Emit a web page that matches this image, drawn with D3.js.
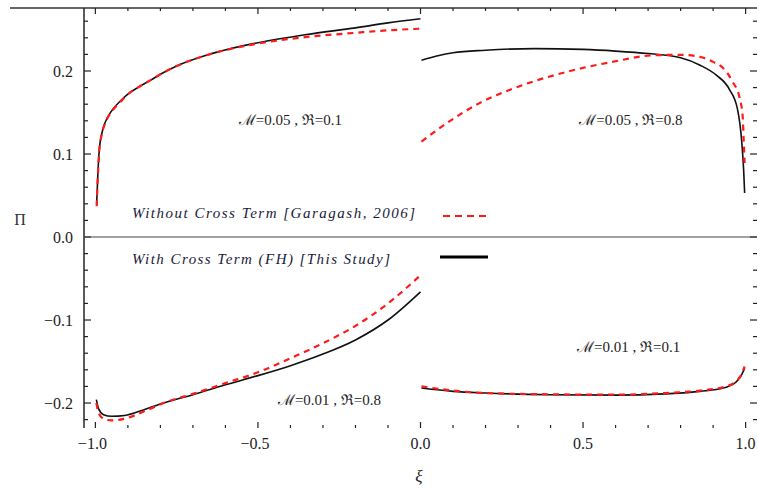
<!DOCTYPE html>
<html><head><meta charset="utf-8">
<script src="https://cdn.jsdelivr.net/npm/d3@7"></script>
<style>html,body{margin:0;padding:0;background:#fff;}svg{display:block;}</style>
</head><body>
<svg id="c" width="757" height="489"></svg>
<script>
// ---- data ----
const xTicksMajor = [-1.0, -0.5, 0.0, 0.5, 1.0];
const xTickLabels = ["\u22121.0", "\u22120.5", "0.0", "0.5", "1.0"];
const yTicksMajor = [-0.2, -0.1, 0.0, 0.1, 0.2];
const yTickLabels = ["\u22120.2", "\u22120.1", "0.0", "0.1", "0.2"];

// M=0.05, R=0.1 (xi in [-1,0])
const tlXi   = [-0.996,-0.993,-0.988,-0.98,-0.97,-0.95,-0.92,-0.9,-0.87,-0.83,-0.8,-0.75,-0.65,-0.5,-0.35,-0.2,-0.1,0.0];
const tlWith = [0.04,0.07,0.105,0.125,0.138,0.152,0.165,0.172,0.18,0.189,0.196,0.206,0.22,0.234,0.244,0.252,0.258,0.263];
const tlWithout = [0.037,0.068,0.104,0.124,0.137,0.151,0.164,0.172,0.18,0.189,0.196,0.206,0.22,0.233,0.241,0.246,0.249,0.251];

// M=0.05, R=0.8 (xi in [0,1])
const trXiWith = [0.003,0.05,0.1,0.2,0.35,0.5,0.6,0.7,0.8,0.86,0.91,0.95,0.975,0.988,0.994,0.997];
const trWith   = [0.213,0.218,0.222,0.225,0.227,0.226,0.224,0.221,0.216,0.207,0.195,0.178,0.154,0.115,0.08,0.053];
const trXiWithout = [0.003,0.08,0.18,0.3,0.45,0.59,0.72,0.8,0.86,0.9,0.93,0.96,0.982,0.991,0.994,0.997];
const trWithout   = [0.115,0.137,0.161,0.181,0.199,0.211,0.219,0.2195,0.217,0.211,0.204,0.187,0.167,0.145,0.117,0.089];

// M=0.01, R=0.8 (xi in [-1,0])
const blXi   = [-0.997,-0.99,-0.975,-0.95,-0.91,-0.85,-0.79,-0.7,-0.6,-0.5,-0.4,-0.3,-0.2,-0.1,0.0];
const blWith = [-0.196,-0.207,-0.214,-0.216,-0.215,-0.208,-0.2,-0.19,-0.178,-0.167,-0.155,-0.141,-0.124,-0.1,-0.066];
const blWithout = [-0.2,-0.212,-0.219,-0.221,-0.219,-0.21,-0.2,-0.189,-0.176,-0.163,-0.146,-0.128,-0.107,-0.08,-0.046];

// M=0.01, R=0.1 (xi in [0,1])
const brXi   = [0.003,0.1,0.2,0.4,0.6,0.75,0.86,0.94,0.97,0.985,0.997];
const brWith = [-0.182,-0.186,-0.188,-0.19,-0.1905,-0.189,-0.186,-0.181,-0.175,-0.168,-0.158];
const brWithout = [-0.18,-0.185,-0.188,-0.1895,-0.19,-0.188,-0.185,-0.18,-0.174,-0.167,-0.156];

const legendLabels = ["Without Cross Term [Garagash, 2006]", "With Cross Term (FH) [This Study]"];
const annotations = [
  {t:"\u2133=0.05 , \u211C=0.1", xi:-0.4, h:0.135},
  {t:"\u2133=0.05 , \u211C=0.8", xi:0.647, h:0.135},
  {t:"\u2133=0.01 , \u211C=0.1", xi:0.64, h:-0.139},
  {t:"\u2133=0.01 , \u211C=0.8", xi:-0.28, h:-0.202}
];

// ---- drawing ----
const svg = d3.select("#c");
const L = 84, R = 757, T = 8, B = 428;
const x = d3.scaleLinear().domain([-1.035, 1.035]).range([L, R]);
const y = d3.scaleLinear().domain([-0.2301, 0.2759]).range([B, T]);
const serif = "'Liberation Serif','Times New Roman',serif";

// frame lines (top and left visible)
svg.append("line").attr("x1", 10).attr("x2", R).attr("y1", T).attr("y2", T)
  .attr("stroke", "#333").attr("stroke-width", 1.6);
svg.append("line").attr("x1", L).attr("x2", L).attr("y1", T).attr("y2", B)
  .attr("stroke", "#333").attr("stroke-width", 1.6);

// ticks
const xMinor = d3.range(-10, 11).map(i => i / 10);
const yMinor = d3.range(-11, 14).map(i => +(i * 0.02).toFixed(2));
const isMajorX = v => Math.abs(v * 2 - Math.round(v * 2)) < 1e-6;
const isMajorY = v => Math.abs(v * 10 - Math.round(v * 10)) < 1e-6;
const tk = svg.append("g").attr("stroke", "#222").attr("stroke-width", 1.2);
xMinor.forEach(v => {
  const len = isMajorX(v) ? 6 : 3;
  tk.append("line").attr("x1", x(v)).attr("x2", x(v)).attr("y1", B).attr("y2", B - len);
  tk.append("line").attr("x1", x(v)).attr("x2", x(v)).attr("y1", T).attr("y2", T + len);
});
yMinor.forEach(v => {
  const len = isMajorY(v) ? 7 : 4;
  tk.append("line").attr("x1", L).attr("x2", L + len).attr("y1", y(v)).attr("y2", y(v));
  tk.append("line").attr("x1", R).attr("x2", R - len).attr("y1", y(v)).attr("y2", y(v));
});

// tick labels
xTicksMajor.forEach((v, i) => {
  svg.append("text").attr("x", x(v) - (v < 0 ? 3 : 0)).attr("y", 449).attr("text-anchor", "middle")
    .attr("font-family", serif).attr("font-size", 16).attr("fill", "#222").text(xTickLabels[i]);
});
yTicksMajor.forEach((v, i) => {
  svg.append("text").attr("x", 73).attr("y", y(v) + 5.5).attr("text-anchor", "end")
    .attr("font-family", serif).attr("font-size", 16).attr("fill", "#222").text(yTickLabels[i]);
});

// axis labels
svg.append("text").attr("x", 20).attr("y", 225).attr("text-anchor", "middle")
  .attr("font-family", serif).attr("font-size", 16).attr("fill", "#333").text("\u03A0");
svg.append("text").attr("x", 419).attr("y", 482).attr("text-anchor", "middle")
  .attr("font-family", serif).attr("font-size", 17).attr("font-style", "italic").attr("fill", "#222").text("\u03BE");

// zero line
svg.append("line").attr("x1", L).attr("x2", R).attr("y1", y(0)).attr("y2", y(0))
  .attr("stroke", "#444").attr("stroke-width", 1.2);

// curves
const line = d3.line().x(d => x(d[0])).y(d => y(d[1])).curve(d3.curveMonotoneX);
const zip = (a, b) => a.map((v, i) => [v, b[i]]);
const black = [zip(tlXi, tlWith), zip(trXiWith, trWith), zip(blXi, blWith), zip(brXi, brWith)];
const red = [zip(tlXi, tlWithout), zip(trXiWithout, trWithout), zip(blXi, blWithout), zip(brXi, brWithout)];
black.forEach(s => svg.append("path").attr("d", line(s)).attr("fill", "none")
  .attr("stroke", "#111").attr("stroke-width", 1.6));
red.forEach(s => svg.append("path").attr("d", line(s)).attr("fill", "none")
  .attr("stroke", "#ff1a1a").attr("stroke-width", 2.2).attr("stroke-dasharray", "6,5"));

// annotations
annotations.forEach(a => {
  svg.append("text").attr("x", x(a.xi)).attr("y", y(a.h)).attr("text-anchor", "middle")
    .attr("font-family", serif).attr("font-size", 15).attr("fill", "#222").text(a.t);
});

// legend
svg.append("text").attr("x", 132).attr("y", 218).attr("font-family", serif).attr("font-style", "italic")
  .attr("font-size", 15).attr("fill", "#1a1a3a").attr("textLength", 283).attr("lengthAdjust", "spacing")
  .text(legendLabels[0]);
svg.append("line").attr("x1", 443).attr("x2", 490).attr("y1", 216).attr("y2", 216)
  .attr("stroke", "#ff1a1a").attr("stroke-width", 1.8).attr("stroke-dasharray", "7,5");
svg.append("text").attr("x", 132).attr("y", 264).attr("font-family", serif).attr("font-style", "italic")
  .attr("font-size", 15).attr("fill", "#1a1a3a").attr("textLength", 258).attr("lengthAdjust", "spacing")
  .text(legendLabels[1]);
svg.append("line").attr("x1", 440).attr("x2", 488).attr("y1", 257).attr("y2", 257)
  .attr("stroke", "#000").attr("stroke-width", 3);
</script>
</body></html>
